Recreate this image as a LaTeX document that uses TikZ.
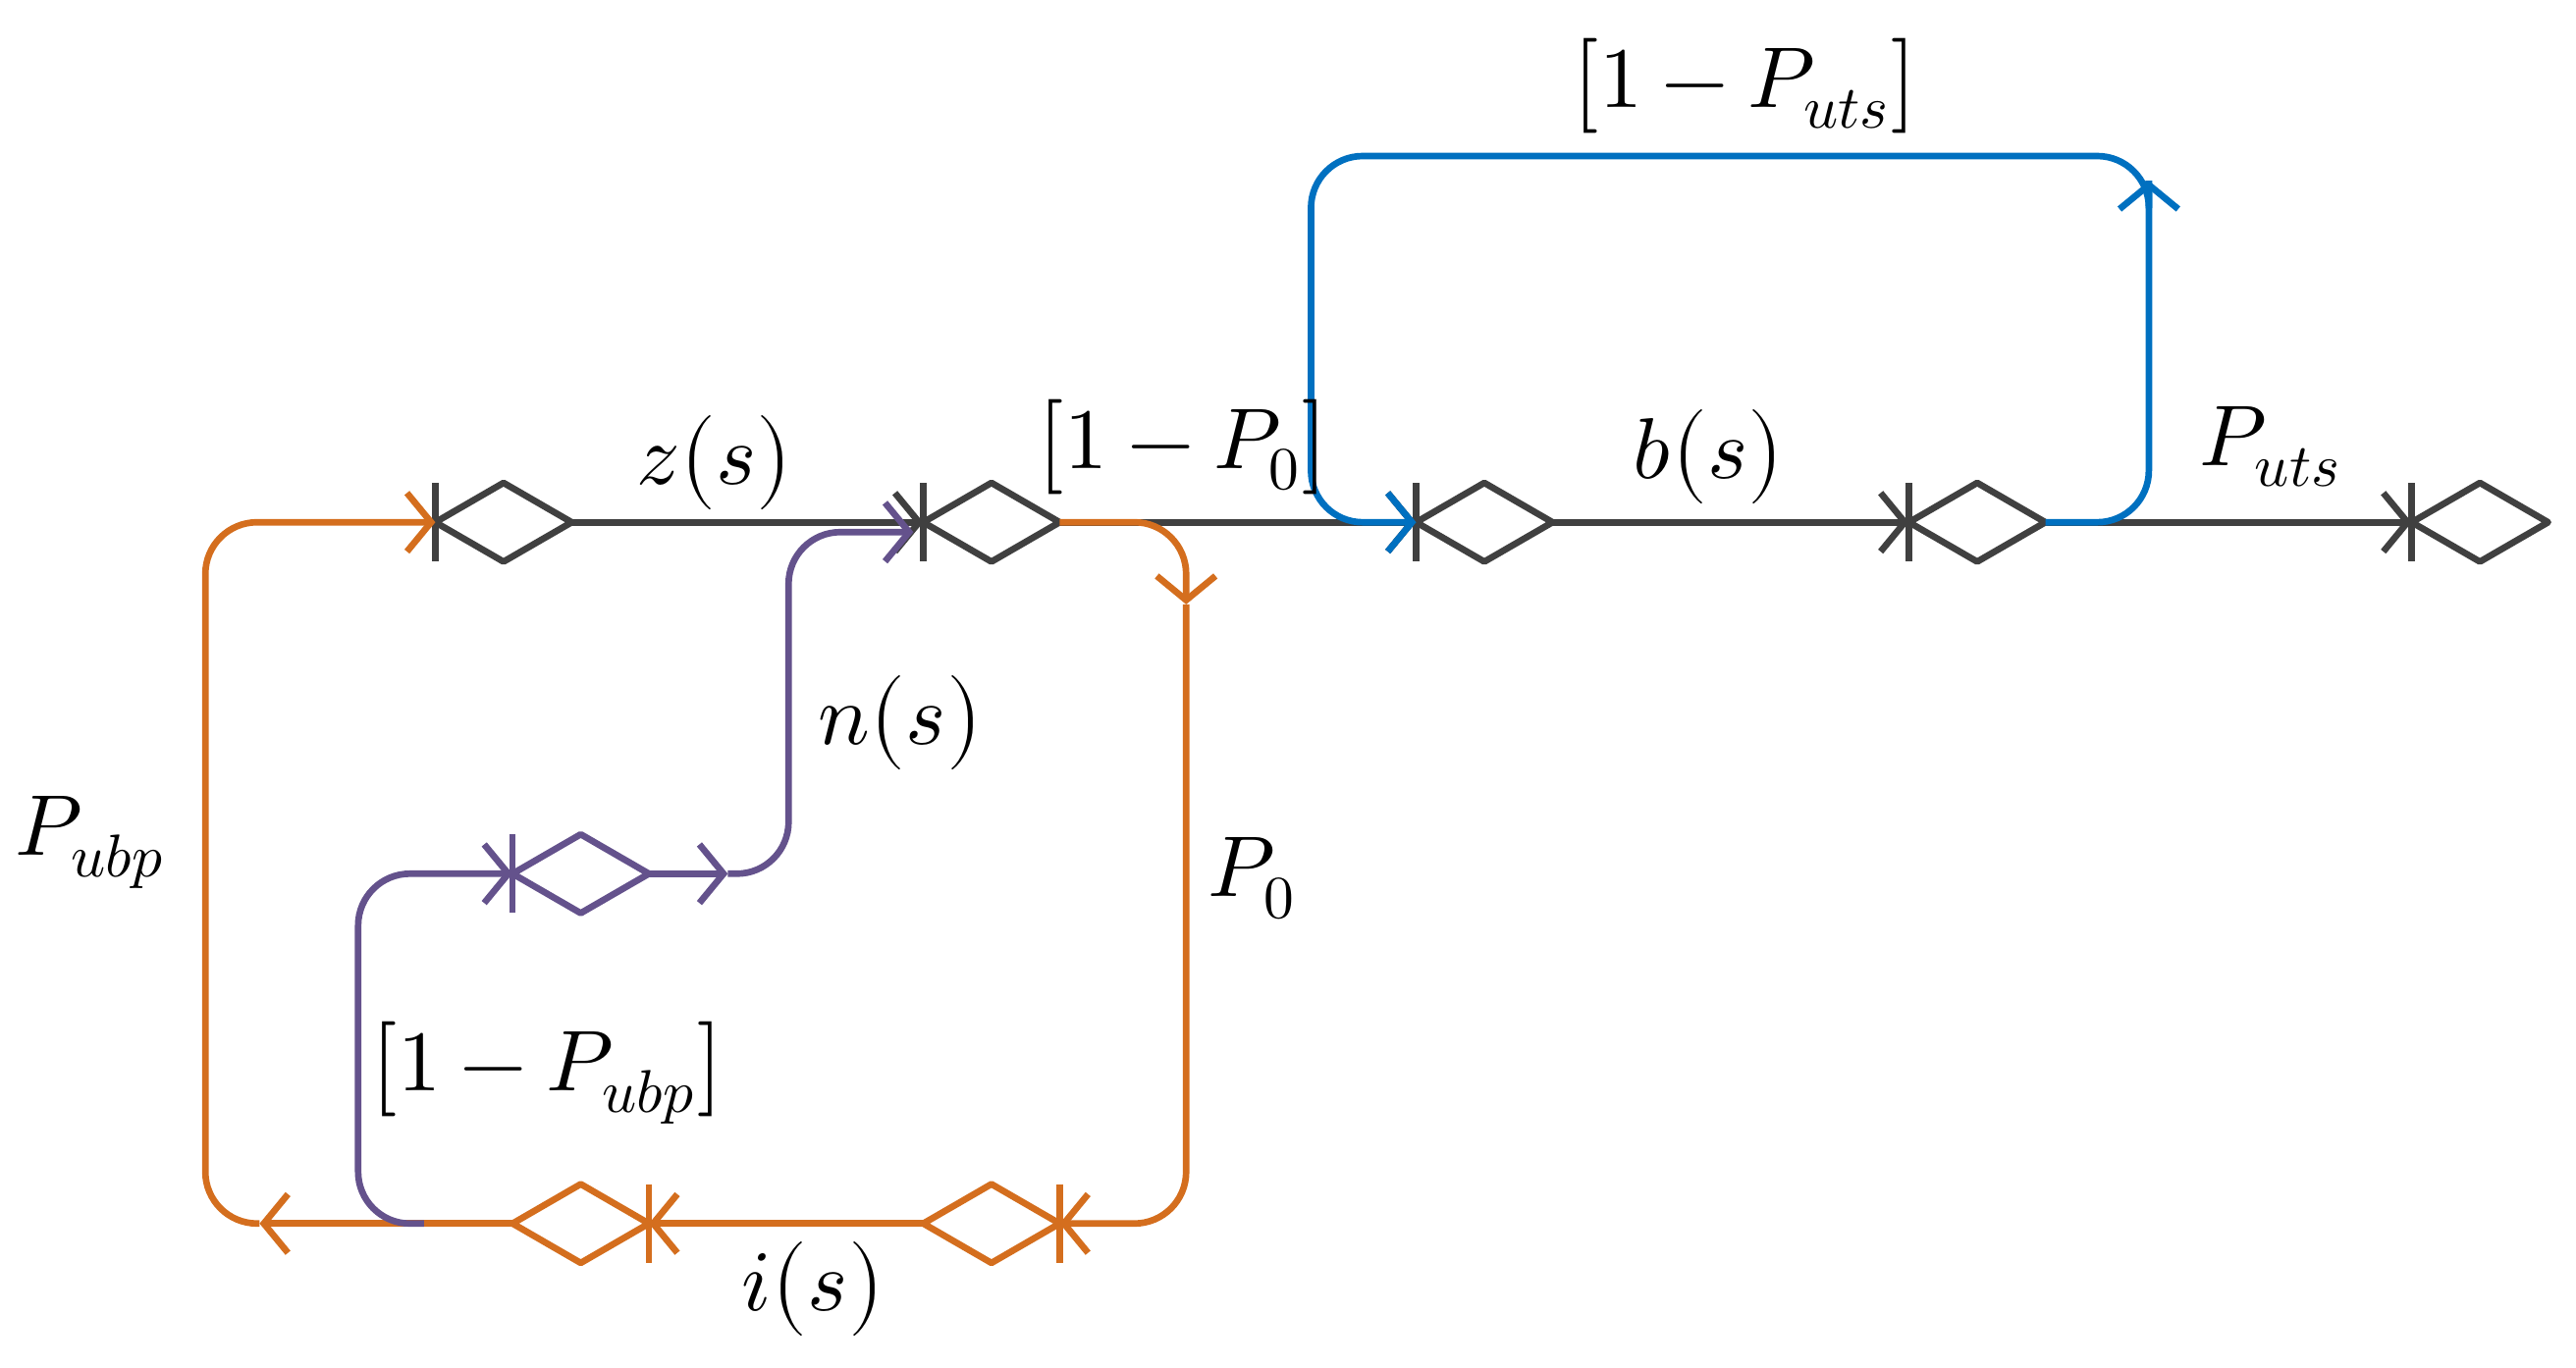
\documentclass[tikz,border=0pt]{standalone}
\usepackage{fontspec}
\setmainfont{Liberation Serif}
\usepackage{unicode-math}
\setmathfont{Latin Modern Math}
\usetikzlibrary{arrows.meta}
\definecolor{dk}{RGB}{64,64,64}
\definecolor{or}{RGB}{212,110,30}
\definecolor{pu}{RGB}{100,82,140}
\definecolor{bl}{RGB}{0,112,192}
\begin{document}
\begin{tikzpicture}[x=0.016735cm,y=-0.016735cm,line width=1.9pt,line join=round,
  arr/.style={-{Straight Barb[length=7pt,width=17pt,line width=1.9pt]}},
  rc/.style={rounded corners=15pt},
  lab/.style={font=\fontsize{25}{28}\selectfont},
  pics/el/.style={code={\draw (0,-24)--(0,24); \draw (0,0)--(41.5,-24)--(83,0)--(41.5,24)--cycle;}}]
\useasboundingbox (0,0) rectangle (1568,832.4);
% main chain
\foreach \n/\x in {1/265,2/562,3/862,4/1162,5/1468}{
  \coordinate (n\n) at (\x,318);
  \coordinate (n\n r) at (\x+83,318);
  \pic[draw=dk,color=dk] at (n\n) {el};
}
\draw[dk,arr] (n1r) -- (n2);
\draw[dk,arr] (n2r) -- (n3);
\draw[dk,arr] (n3r) -- (n4);
\draw[dk,arr] (n4r) -- (n5);
% bottom orange nodes (mirrored)
\coordinate (b2) at (645,745); \coordinate (b2l) at (562,745);
\coordinate (b1) at (395,745); \coordinate (b1l) at (312,745);
\pic[color=or,xscale=-1] at (b2) {el};
\pic[color=or,xscale=-1] at (b1) {el};
% purple node
\coordinate (p1) at (312,532); \coordinate (p1r) at (395,532);
\pic[color=pu] at (p1) {el};
% blue loop
\coordinate (bt) at (1308,110);
\draw[bl,arr,rc] (n4r) -| (bt);
\draw[bl,arr,rc] (bt) |- (798,95) |- (n3);
% orange
\coordinate (od) at (722,368);
\draw[or,arr,rc] (n2r) -| (od);
\draw[or,arr,rc] (od) |- (b2);
\draw[or,arr] (b2l) -- (b1);
\coordinate (oa) at (158,745);
\draw[or,arr] (b1l) -- (oa);
\draw[or,arr,rc] (oa) -| (125,318) -- (n1);
% purple
\coordinate (ps) at (258,745);
\coordinate (pm) at (443,532);
\coordinate (n2p) at (556,324);
\draw[pu,arr,rc] (ps) -| (218,532) -- (p1);
\draw[pu,arr] (p1r) -- (pm);
\draw[pu,arr,rc] (pm) -| (480,324) -- (n2p);
% labels
\node[lab] (lz) at (435,282) {$z\bigl(s\bigr)$};
\node[lab] (lp0b) at (720,272) {$\bigl[1-P_{0}\bigr]$};
\node[lab] (lb) at (1040,278) {$b\bigl(s\bigr)$};
\node[lab] (lput) at (1382,272) {$P_{uts}$};
\node[lab] (lputb) at (1062,52) {$\bigl[1-P_{uts}\bigr]$};
\node[lab] (lubp) at (55,513) {$P_{ubp}$};
\node[lab] (lp0) at (762,535) {$P_{0}$};
\node[lab] (ln) at (548,440) {$n\bigl(s\bigr)$};
\node[lab] (lubpb) at (333,652) {$\bigl[1-P_{ubp}\bigr]$};
\node[lab] (li) at (495,785) {$i\bigl(s\bigr)$};
\end{tikzpicture}
\end{document}
